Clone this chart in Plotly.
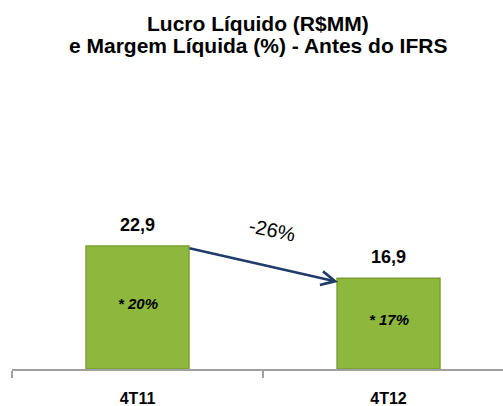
import plotly.graph_objects as go

categories = ["4T11", "4T12"]
lucro = [22.9, 16.9]
margem = ["* 20%", "* 17%"]
variacao = "-26%"
title_lines = ["Lucro Líquido (R$MM)", "e Margem Líquida (%) - Antes do IFRS"]

FONT = "Liberation Sans, Arial, sans-serif"

fig = go.Figure()
fig.add_trace(go.Bar(
    x=categories, y=lucro, width=0.41,
    marker=dict(color="#8DB83D", line=dict(color="#7A9F30", width=1.5)),
    hoverinfo="skip",
))

ann = []
for c, v, m in zip(categories, lucro, margem):
    ann.append(dict(x=c, y=v, xref="x", yref="y", text="<b>%s</b>" % f"{v:.1f}".replace(".", ","),
                    showarrow=False, yanchor="bottom", yshift=9,
                    font=dict(family=FONT, size=18, color="#000000")))
    ann.append(dict(x=c, y=v / 2, xref="x", yref="y", text="<b><i>%s</i></b>" % m,
                    showarrow=False, yshift=4,
                    font=dict(family=FONT, size=15, color="#000000")))

# arrow between bars
ann.append(dict(x=0.799, y=lucro[1] * 0.96, ax=0.201, ay=lucro[0] * 0.985,
                xref="x", yref="y", axref="x", ayref="y", text="",
                showarrow=True, arrowhead=5, arrowsize=1.1, arrowwidth=2.5,
                arrowcolor="#1F3B6A", standoff=0, startstandoff=0))
ann.append(dict(x=0.536, y=25.9, xref="x", yref="y", text=variacao, showarrow=False,
                textangle=12, font=dict(family=FONT, size=20, color="#000000")))

ann.append(dict(x=0.5, y=1.157, xref="paper", yref="paper", text="<b>%s</b>" % title_lines[0],
                showarrow=False, yanchor="middle",
                font=dict(family=FONT, size=21, color="#000000")))
ann.append(dict(x=0.5, y=1.0836, xref="paper", yref="paper", text="<b>%s</b>" % title_lines[1],
                showarrow=False, yanchor="middle",
                font=dict(family=FONT, size=21, color="#000000")))

fig.update_layout(
    width=503, height=406,
    margin=dict(l=12, r=0, t=70, b=37),
    paper_bgcolor="white", plot_bgcolor="white",
    showlegend=False,
    annotations=ann,
    xaxis=dict(type="category", range=[-0.5, 1.456], tickson="boundaries",
               ticks="outside", ticklen=7, tickcolor="#A0A0A0", tickwidth=1.5,
               showline=True, linecolor="#A0A0A0", linewidth=1.5,
               showgrid=False, ticklabelstandoff=14, automargin=False,
               tickfont=dict(family=FONT, size=16, color="#000000", weight="bold")),
    yaxis=dict(visible=False, range=[0, 55.7]),
)

fig.write_html("out.html", config={"displayModeBar": False},
               post_script="document.body.style.margin='0';document.body.style.overflow='hidden';")
